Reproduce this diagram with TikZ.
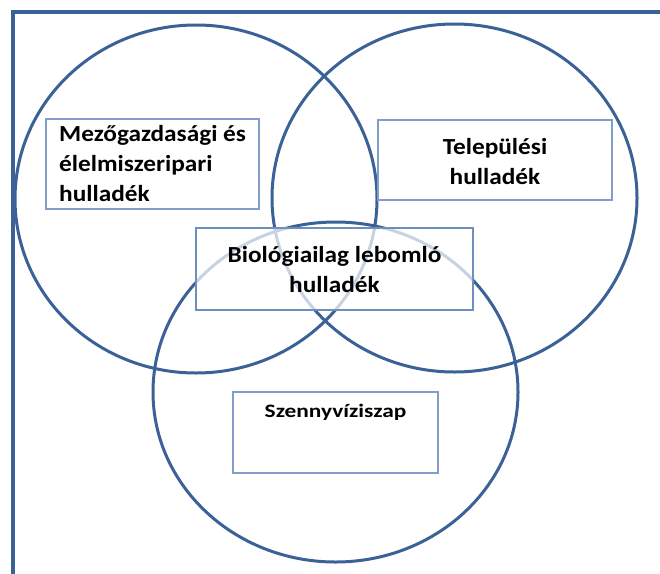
\documentclass[tikz,border=0pt]{standalone}
\usepackage{fontspec}
\newfontfamily\boxfont{Carlito}[FakeStretch=1.1]
\newfontfamily\smallboxfont{Carlito}[FakeStretch=1.23]
\definecolor{ringblue}{RGB}{59,98,150}
\definecolor{boxblue}{RGB}{130,158,200}
\definecolor{midblue}{RGB}{110,142,190}
\tikzset{
  ring/.style={draw=ringblue, line width=3pt},
  frameline/.style={draw=ringblue, line width=3.6pt},
  wastebox/.style={draw=boxblue, line width=1.4pt, fill=white, inner sep=0pt},
  centerbox/.style={draw=midblue, line width=2pt, fill=white, fill opacity=0.72, draw opacity=1, inner sep=0pt},
  boxtext/.style={inner sep=0pt, text=black, font=\boxfont\bfseries\fontsize{23}{30}\selectfont},
  smalltext/.style={inner sep=0pt, text=black, font=\smallboxfont\bfseries\fontsize{19}{22}\selectfont}
}
\begin{document}
\begin{tikzpicture}[x=1pt, y=-1pt]
  \useasboundingbox (0,0) rectangle (660,573);
  \clip (0,0) rectangle (660,573);
  \fill[white] (0,0) rectangle (660,573);
  % frame
  \coordinate (fbl) at (13,580);
  \coordinate (ftl) at (13,12);
  \coordinate (ftr) at (670,12);
  \draw[frameline] (fbl) -- (ftl) -- (ftr);
  % circles
  \draw[ring] (196,199) ellipse [x radius=181pt, y radius=174pt];
  \draw[ring] (454.5,198) ellipse [x radius=182.5pt, y radius=174pt];
  \draw[ring] (335.5,392) ellipse [x radius=182.5pt, y radius=170pt];
  % boxes
  \node[wastebox, minimum width=213pt, minimum height=90pt] (b1) at (152.5,164) {};
  \node[boxtext, align=left, anchor=west] (t1) at (59,164) {Mezőgazdasági és\\élelmiszeripari\\hulladék};
  \node[wastebox, minimum width=234pt, minimum height=80pt] (b2) at (495,160) {};
  \node[boxtext, align=center] (t2) at (495,162) {Települési\\hulladék};
  \node[centerbox, minimum width=277pt, minimum height=82pt] (b3) at (334.5,269) {};
  \node[boxtext, align=center] (t3) at (334.5,270) {Biológiailag lebomló\\hulladék};
  \node[wastebox, minimum width=205pt, minimum height=81pt] (b4) at (335.5,432.5) {};
  \node[smalltext, anchor=base] (t4) at (335.5,417) {Szennyvíziszap};
\end{tikzpicture}
\end{document}
